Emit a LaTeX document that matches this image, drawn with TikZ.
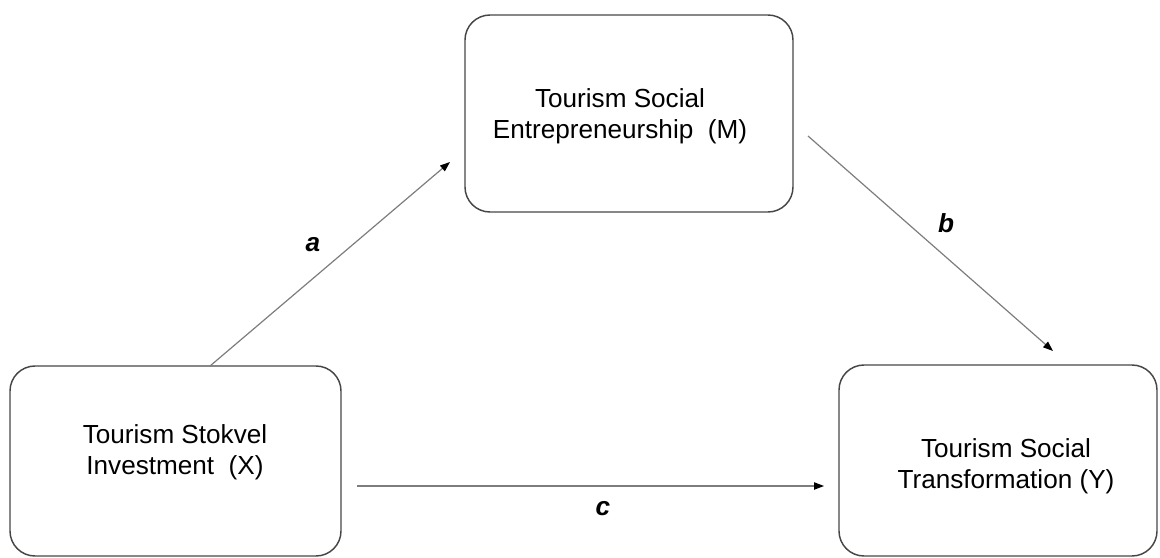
\documentclass[tikz,border=0pt]{standalone}
\usepackage{fontspec}
\setmainfont{Liberation Sans}
\usetikzlibrary{arrows.meta}
\definecolor{boxline}{RGB}{70,70,70}
\definecolor{pathline}{RGB}{125,125,125}
\begin{document}
\begin{tikzpicture}[x=0.75pt,y=-0.75pt,
  box/.style={draw=boxline, line width=1.1pt, rounded corners=18.75pt, inner sep=0pt},
  txt/.style={font=\fontsize{19.6}{23.25}\selectfont, align=center, inner sep=0pt, anchor=north},
  pathln/.style={draw=pathline, line width=0.9pt, -{Triangle[length=7.5pt,width=5.5pt,fill=black,color=black]}},
  coef/.style={font=\fontsize{19.6}{23}\selectfont\bfseries\itshape, inner sep=0pt}]
\useasboundingbox (0,0) rectangle (1160,557);
\begin{scope}
\clip (0,0) rectangle (1160,557);
% boxes
\node[box, minimum width=248.25pt, minimum height=142.5pt] (X) at (175.5,461) {};
\node[box, minimum width=246pt, minimum height=147.75pt] (M) at (629,113.5) {};
\node[box, minimum width=238.5pt, minimum height=143.25pt] (Y) at (998,460.5) {};
\end{scope}
% texts
\node[txt] (Xt) at (175,424.5) {Tourism Stokvel\\Investment~~(X)};
\node[txt] (Mt) at (620,88.5) {Tourism Social\\Entrepreneurship~~(M)};
\node[txt] (Yt) at (1006,438.5) {Tourism Social\\Transformation (Y)};
% connector ends
\coordinate (aS) at (210,366);
\coordinate (aE) at (450,162);
\coordinate (bS) at (808,136);
\coordinate (bE) at (1053,351);
\coordinate (cS) at (357,486);
\coordinate (cE) at (824,486);
\draw[pathln] (aS) -- (aE);
\draw[pathln] (bS) -- (bE);
\draw[pathln] (cS) -- (cE);
% coefficients
\node[coef] (la) at (313,245) {a};
\node[coef] (lb) at (946,223) {b};
\node[coef] (lc) at (603,509) {c};
\end{tikzpicture}
\end{document}
